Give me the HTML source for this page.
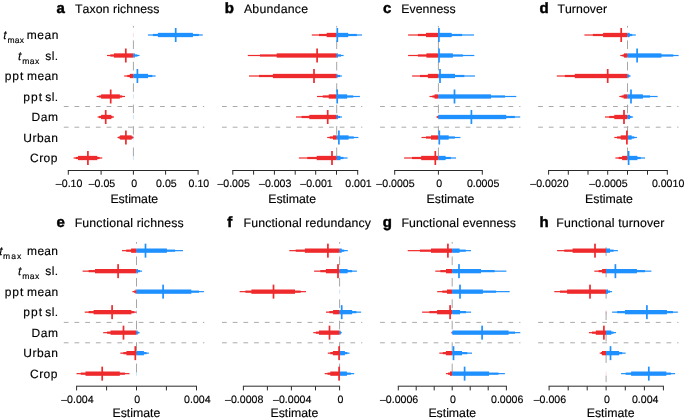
<!DOCTYPE html>
<html><head><meta charset="utf-8"><title>Figure</title>
<style>
html,body{margin:0;padding:0;background:#fff;}
body{width:685px;height:420px;overflow:hidden;}
svg{display:block;will-change:transform;}
text{font-family:"Liberation Sans",sans-serif;fill:#000000;stroke:#000000;stroke-width:0.15px;text-rendering:geometricPrecision;font-kerning:none;}
.tl{font-size:10.6px;}
.xl{font-size:12.3px;}
.tt{font-size:12.3px;}
.pl{font-size:15px;font-weight:bold;fill:#000;stroke-width:0.45px;}
.yl{font-size:12px;}
.sub{font-size:8.5px;}
</style></head>
<body>
<svg width="685" height="420" viewBox="0 0 685 420">
<rect width="685" height="420" fill="#fff"/>
<line x1="63.80" y1="106.50" x2="204.30" y2="106.50" stroke="#aaaaaa" stroke-width="1" stroke-dasharray="4.75 5.95"/>
<line x1="63.80" y1="127.20" x2="204.30" y2="127.20" stroke="#aaaaaa" stroke-width="1" stroke-dasharray="4.75 5.95"/>
<line x1="133.40" y1="25.90" x2="133.40" y2="166.00" stroke="#a6a6a6" stroke-width="1" stroke-dasharray="8.6 12.82" stroke-dashoffset="6.9"/>
<rect x="132.90" y="32.90" width="1" height="4.2" fill="#ee2a2c" opacity="0.15"/>
<rect x="147.90" y="34.40" width="54.90" height="1.20" fill="#1e90ff"/>
<rect x="152.90" y="33.90" width="45.90" height="2.20" fill="#1e90ff"/>
<rect x="157.90" y="32.85" width="35.00" height="4.30" fill="#1e90ff"/>
<rect x="174.85" y="28.00" width="1.70" height="14.00" fill="#1e90ff"/>
<rect x="107.00" y="54.90" width="26.40" height="1.20" fill="#ee2a2c"/>
<rect x="133.40" y="54.90" width="6.10" height="1.20" fill="#1e90ff"/>
<rect x="110.30" y="54.40" width="23.10" height="2.20" fill="#ee2a2c"/>
<rect x="133.40" y="54.40" width="4.10" height="2.20" fill="#1e90ff"/>
<rect x="113.90" y="53.35" width="19.50" height="4.30" fill="#ee2a2c"/>
<rect x="133.40" y="53.35" width="1.50" height="4.30" fill="#1e90ff"/>
<rect x="124.95" y="48.50" width="1.70" height="14.00" fill="#ee2a2c"/>
<rect x="124.20" y="75.40" width="9.20" height="1.20" fill="#ee2a2c"/>
<rect x="133.40" y="75.40" width="22.20" height="1.20" fill="#1e90ff"/>
<rect x="127.30" y="74.90" width="6.10" height="2.20" fill="#ee2a2c"/>
<rect x="133.40" y="74.90" width="18.90" height="2.20" fill="#1e90ff"/>
<rect x="129.80" y="73.85" width="3.60" height="4.30" fill="#ee2a2c"/>
<rect x="133.40" y="73.85" width="14.60" height="4.30" fill="#1e90ff"/>
<rect x="136.55" y="69.00" width="1.70" height="14.00" fill="#1e90ff"/>
<rect x="132.90" y="94.40" width="1" height="4.2" fill="#1e90ff" opacity="0.22"/>
<rect x="96.70" y="95.90" width="28.30" height="1.20" fill="#ee2a2c"/>
<rect x="98.80" y="95.40" width="23.40" height="2.20" fill="#ee2a2c"/>
<rect x="101.10" y="94.35" width="18.70" height="4.30" fill="#ee2a2c"/>
<rect x="109.85" y="89.50" width="1.70" height="14.00" fill="#ee2a2c"/>
<rect x="132.90" y="114.90" width="1" height="4.2" fill="#1e90ff" opacity="0.22"/>
<rect x="97.60" y="116.40" width="16.40" height="1.20" fill="#ee2a2c"/>
<rect x="99.00" y="115.90" width="13.50" height="2.20" fill="#ee2a2c"/>
<rect x="101.10" y="114.85" width="10.20" height="4.30" fill="#ee2a2c"/>
<rect x="104.85" y="110.00" width="1.70" height="14.00" fill="#ee2a2c"/>
<rect x="132.90" y="135.40" width="1" height="4.2" fill="#1e90ff" opacity="0.22"/>
<rect x="117.50" y="136.90" width="15.90" height="1.20" fill="#ee2a2c"/>
<rect x="133.40" y="136.90" width="0.30" height="1.20" fill="#1e90ff"/>
<rect x="118.70" y="136.40" width="14.20" height="2.20" fill="#ee2a2c"/>
<rect x="120.10" y="135.35" width="11.60" height="4.30" fill="#ee2a2c"/>
<rect x="125.05" y="130.50" width="1.70" height="14.00" fill="#ee2a2c"/>
<rect x="132.90" y="155.90" width="1" height="4.2" fill="#1e90ff" opacity="0.22"/>
<rect x="73.60" y="157.40" width="28.70" height="1.20" fill="#ee2a2c"/>
<rect x="75.70" y="156.90" width="23.90" height="2.20" fill="#ee2a2c"/>
<rect x="78.00" y="155.85" width="19.30" height="4.30" fill="#ee2a2c"/>
<rect x="87.05" y="151.00" width="1.70" height="14.00" fill="#ee2a2c"/>
<line x1="67.80" y1="170.50" x2="198.60" y2="170.50" stroke="#2a2a2a" stroke-width="1"/>
<line x1="68.30" y1="170.50" x2="68.30" y2="174.70" stroke="#2a2a2a" stroke-width="1"/>
<text transform="translate(69.10,187.10) scale(1.0,1)" class="tl" text-anchor="middle">–0.10</text>
<line x1="101.10" y1="170.50" x2="101.10" y2="174.70" stroke="#2a2a2a" stroke-width="1"/>
<text transform="translate(101.90,187.10) scale(1.0,1)" class="tl" text-anchor="middle">–0.05</text>
<line x1="133.40" y1="170.50" x2="133.40" y2="174.70" stroke="#2a2a2a" stroke-width="1"/>
<text transform="translate(134.20,187.10) scale(1.0,1)" class="tl" text-anchor="middle">0</text>
<line x1="165.60" y1="170.50" x2="165.60" y2="174.70" stroke="#2a2a2a" stroke-width="1"/>
<text transform="translate(166.40,187.10) scale(1.0,1)" class="tl" text-anchor="middle">0.05</text>
<line x1="198.10" y1="170.50" x2="198.10" y2="174.70" stroke="#2a2a2a" stroke-width="1"/>
<text transform="translate(198.90,187.10) scale(1.0,1)" class="tl" text-anchor="middle">0.10</text>
<text x="134.30" y="203.40" class="xl" text-anchor="middle">Estimate</text>
<text x="56.56" y="12.85" class="pl">a</text>
<text x="74.92" y="12.85" class="tt" style="letter-spacing:0.094px">Taxon richness</text>
<line x1="222.00" y1="106.50" x2="362.30" y2="106.50" stroke="#aaaaaa" stroke-width="1" stroke-dasharray="4.75 5.95"/>
<line x1="222.00" y1="127.20" x2="362.30" y2="127.20" stroke="#aaaaaa" stroke-width="1" stroke-dasharray="4.75 5.95"/>
<line x1="336.70" y1="25.90" x2="336.70" y2="166.00" stroke="#a6a6a6" stroke-width="1" stroke-dasharray="8.6 12.82" stroke-dashoffset="6.9"/>
<rect x="311.80" y="34.40" width="24.90" height="1.20" fill="#ee2a2c"/>
<rect x="336.70" y="34.40" width="25.30" height="1.20" fill="#1e90ff"/>
<rect x="319.00" y="33.90" width="17.70" height="2.20" fill="#ee2a2c"/>
<rect x="336.70" y="33.90" width="20.10" height="2.20" fill="#1e90ff"/>
<rect x="326.70" y="32.85" width="10.00" height="4.30" fill="#ee2a2c"/>
<rect x="336.70" y="32.85" width="11.50" height="4.30" fill="#1e90ff"/>
<rect x="336.45" y="28.00" width="1.70" height="14.00" fill="#1e90ff"/>
<rect x="247.80" y="54.90" width="88.90" height="1.20" fill="#ee2a2c"/>
<rect x="336.70" y="54.90" width="6.90" height="1.20" fill="#1e90ff"/>
<rect x="260.00" y="54.40" width="76.70" height="2.20" fill="#ee2a2c"/>
<rect x="336.70" y="54.40" width="4.30" height="2.20" fill="#1e90ff"/>
<rect x="276.70" y="53.35" width="60.00" height="4.30" fill="#ee2a2c"/>
<rect x="336.70" y="53.35" width="1.30" height="4.30" fill="#1e90ff"/>
<rect x="316.25" y="48.50" width="1.70" height="14.00" fill="#ee2a2c"/>
<rect x="249.00" y="75.40" width="87.70" height="1.20" fill="#ee2a2c"/>
<rect x="336.70" y="75.40" width="5.20" height="1.20" fill="#1e90ff"/>
<rect x="259.00" y="74.90" width="77.70" height="2.20" fill="#ee2a2c"/>
<rect x="336.70" y="74.90" width="3.30" height="2.20" fill="#1e90ff"/>
<rect x="272.90" y="73.85" width="63.80" height="4.30" fill="#ee2a2c"/>
<rect x="336.70" y="73.85" width="0.80" height="4.30" fill="#1e90ff"/>
<rect x="313.15" y="69.00" width="1.70" height="14.00" fill="#ee2a2c"/>
<rect x="317.00" y="95.90" width="19.70" height="1.20" fill="#ee2a2c"/>
<rect x="336.70" y="95.90" width="23.20" height="1.20" fill="#1e90ff"/>
<rect x="322.80" y="95.40" width="13.90" height="2.20" fill="#ee2a2c"/>
<rect x="336.70" y="95.40" width="16.50" height="2.20" fill="#1e90ff"/>
<rect x="328.70" y="94.35" width="8.00" height="4.30" fill="#ee2a2c"/>
<rect x="336.70" y="94.35" width="10.40" height="4.30" fill="#1e90ff"/>
<rect x="336.35" y="89.50" width="1.70" height="14.00" fill="#1e90ff"/>
<rect x="296.00" y="116.40" width="40.70" height="1.20" fill="#ee2a2c"/>
<rect x="336.70" y="116.40" width="5.30" height="1.20" fill="#1e90ff"/>
<rect x="301.60" y="115.90" width="35.10" height="2.20" fill="#ee2a2c"/>
<rect x="336.70" y="115.90" width="3.30" height="2.20" fill="#1e90ff"/>
<rect x="309.30" y="114.85" width="27.40" height="4.30" fill="#ee2a2c"/>
<rect x="336.70" y="114.85" width="1.20" height="4.30" fill="#1e90ff"/>
<rect x="326.85" y="110.00" width="1.70" height="14.00" fill="#ee2a2c"/>
<rect x="327.20" y="136.90" width="9.50" height="1.20" fill="#ee2a2c"/>
<rect x="336.70" y="136.90" width="21.70" height="1.20" fill="#1e90ff"/>
<rect x="329.70" y="136.40" width="7.00" height="2.20" fill="#ee2a2c"/>
<rect x="336.70" y="136.40" width="17.10" height="2.20" fill="#1e90ff"/>
<rect x="333.00" y="135.35" width="3.70" height="4.30" fill="#ee2a2c"/>
<rect x="336.70" y="135.35" width="11.90" height="4.30" fill="#1e90ff"/>
<rect x="338.05" y="130.50" width="1.70" height="14.00" fill="#1e90ff"/>
<rect x="298.90" y="157.40" width="37.80" height="1.20" fill="#ee2a2c"/>
<rect x="336.70" y="157.40" width="10.90" height="1.20" fill="#1e90ff"/>
<rect x="307.30" y="156.90" width="29.40" height="2.20" fill="#ee2a2c"/>
<rect x="336.70" y="156.90" width="6.80" height="2.20" fill="#1e90ff"/>
<rect x="316.70" y="155.85" width="20.00" height="4.30" fill="#ee2a2c"/>
<rect x="336.70" y="155.85" width="3.80" height="4.30" fill="#1e90ff"/>
<rect x="331.15" y="151.00" width="1.70" height="14.00" fill="#ee2a2c"/>
<line x1="232.30" y1="170.50" x2="358.20" y2="170.50" stroke="#2a2a2a" stroke-width="1"/>
<line x1="232.80" y1="170.50" x2="232.80" y2="174.70" stroke="#2a2a2a" stroke-width="1"/>
<text transform="translate(233.60,187.10) scale(1.0,1)" class="tl" text-anchor="middle">–0.005</text>
<line x1="253.60" y1="170.50" x2="253.60" y2="174.70" stroke="#2a2a2a" stroke-width="1"/>
<line x1="274.40" y1="170.50" x2="274.40" y2="174.70" stroke="#2a2a2a" stroke-width="1"/>
<text transform="translate(275.20,187.10) scale(1.0,1)" class="tl" text-anchor="middle">–0.003</text>
<line x1="295.20" y1="170.50" x2="295.20" y2="174.70" stroke="#2a2a2a" stroke-width="1"/>
<line x1="315.70" y1="170.50" x2="315.70" y2="174.70" stroke="#2a2a2a" stroke-width="1"/>
<text transform="translate(316.50,187.10) scale(1.0,1)" class="tl" text-anchor="middle">–0.001</text>
<line x1="336.50" y1="170.50" x2="336.50" y2="174.70" stroke="#2a2a2a" stroke-width="1"/>
<line x1="357.70" y1="170.50" x2="357.70" y2="174.70" stroke="#2a2a2a" stroke-width="1"/>
<text transform="translate(358.50,187.10) scale(1.0,1)" class="tl" text-anchor="middle">0.001</text>
<text x="292.20" y="203.40" class="xl" text-anchor="middle">Estimate</text>
<text x="224.71" y="12.85" class="pl">b</text>
<text x="243.88" y="12.85" class="tt" style="letter-spacing:0.241px">Abundance</text>
<line x1="380.10" y1="106.50" x2="520.40" y2="106.50" stroke="#aaaaaa" stroke-width="1" stroke-dasharray="4.75 5.95"/>
<line x1="380.10" y1="127.20" x2="520.40" y2="127.20" stroke="#aaaaaa" stroke-width="1" stroke-dasharray="4.75 5.95"/>
<line x1="438.40" y1="25.90" x2="438.40" y2="166.00" stroke="#a6a6a6" stroke-width="1" stroke-dasharray="8.6 12.82" stroke-dashoffset="6.9"/>
<rect x="408.10" y="34.40" width="30.30" height="1.20" fill="#ee2a2c"/>
<rect x="438.40" y="34.40" width="35.60" height="1.20" fill="#1e90ff"/>
<rect x="417.90" y="33.90" width="20.50" height="2.20" fill="#ee2a2c"/>
<rect x="438.40" y="33.90" width="23.70" height="2.20" fill="#1e90ff"/>
<rect x="426.00" y="32.85" width="12.40" height="4.30" fill="#ee2a2c"/>
<rect x="438.40" y="32.85" width="13.30" height="4.30" fill="#1e90ff"/>
<rect x="438.05" y="28.00" width="1.70" height="14.00" fill="#1e90ff"/>
<rect x="408.10" y="54.90" width="30.30" height="1.20" fill="#ee2a2c"/>
<rect x="438.40" y="54.90" width="35.90" height="1.20" fill="#1e90ff"/>
<rect x="417.90" y="54.40" width="20.50" height="2.20" fill="#ee2a2c"/>
<rect x="438.40" y="54.40" width="24.50" height="2.20" fill="#1e90ff"/>
<rect x="426.40" y="53.35" width="12.00" height="4.30" fill="#ee2a2c"/>
<rect x="438.40" y="53.35" width="14.50" height="4.30" fill="#1e90ff"/>
<rect x="438.15" y="48.50" width="1.70" height="14.00" fill="#1e90ff"/>
<rect x="412.10" y="75.40" width="26.30" height="1.20" fill="#ee2a2c"/>
<rect x="438.40" y="75.40" width="36.60" height="1.20" fill="#1e90ff"/>
<rect x="420.00" y="74.90" width="18.40" height="2.20" fill="#ee2a2c"/>
<rect x="438.40" y="74.90" width="25.90" height="2.20" fill="#1e90ff"/>
<rect x="427.90" y="73.85" width="10.50" height="4.30" fill="#ee2a2c"/>
<rect x="438.40" y="73.85" width="16.60" height="4.30" fill="#1e90ff"/>
<rect x="439.15" y="69.00" width="1.70" height="14.00" fill="#1e90ff"/>
<rect x="429.50" y="95.90" width="8.90" height="1.20" fill="#ee2a2c"/>
<rect x="438.40" y="95.90" width="77.90" height="1.20" fill="#1e90ff"/>
<rect x="432.40" y="95.40" width="6.00" height="2.20" fill="#ee2a2c"/>
<rect x="438.40" y="95.40" width="66.60" height="2.20" fill="#1e90ff"/>
<rect x="434.50" y="94.35" width="3.90" height="4.30" fill="#ee2a2c"/>
<rect x="438.40" y="94.35" width="52.60" height="4.30" fill="#1e90ff"/>
<rect x="453.65" y="89.50" width="1.70" height="14.00" fill="#1e90ff"/>
<rect x="436.40" y="116.40" width="2.00" height="1.20" fill="#ee2a2c"/>
<rect x="438.40" y="116.40" width="81.80" height="1.20" fill="#1e90ff"/>
<rect x="437.20" y="115.90" width="1.20" height="2.20" fill="#ee2a2c"/>
<rect x="438.40" y="115.90" width="76.40" height="2.20" fill="#1e90ff"/>
<rect x="438.00" y="114.85" width="0.40" height="4.30" fill="#ee2a2c"/>
<rect x="438.40" y="114.85" width="67.80" height="4.30" fill="#1e90ff"/>
<rect x="470.55" y="110.00" width="1.70" height="14.00" fill="#1e90ff"/>
<rect x="421.50" y="136.90" width="16.90" height="1.20" fill="#ee2a2c"/>
<rect x="438.40" y="136.90" width="22.00" height="1.20" fill="#1e90ff"/>
<rect x="426.00" y="136.40" width="12.40" height="2.20" fill="#ee2a2c"/>
<rect x="438.40" y="136.40" width="16.40" height="2.20" fill="#1e90ff"/>
<rect x="431.00" y="135.35" width="7.40" height="4.30" fill="#ee2a2c"/>
<rect x="438.40" y="135.35" width="10.30" height="4.30" fill="#1e90ff"/>
<rect x="438.45" y="130.50" width="1.70" height="14.00" fill="#1e90ff"/>
<rect x="404.10" y="157.40" width="34.30" height="1.20" fill="#ee2a2c"/>
<rect x="438.40" y="157.40" width="17.60" height="1.20" fill="#1e90ff"/>
<rect x="412.00" y="156.90" width="26.40" height="2.20" fill="#ee2a2c"/>
<rect x="438.40" y="156.90" width="12.40" height="2.20" fill="#1e90ff"/>
<rect x="421.20" y="155.85" width="17.20" height="4.30" fill="#ee2a2c"/>
<rect x="438.40" y="155.85" width="7.20" height="4.30" fill="#1e90ff"/>
<rect x="434.45" y="151.00" width="1.70" height="14.00" fill="#ee2a2c"/>
<line x1="394.20" y1="170.50" x2="482.80" y2="170.50" stroke="#2a2a2a" stroke-width="1"/>
<line x1="394.70" y1="170.50" x2="394.70" y2="174.70" stroke="#2a2a2a" stroke-width="1"/>
<text transform="translate(395.50,187.10) scale(1.0,1)" class="tl" text-anchor="middle">–0.0005</text>
<line x1="438.40" y1="170.50" x2="438.40" y2="174.70" stroke="#2a2a2a" stroke-width="1"/>
<text transform="translate(439.20,187.10) scale(1.0,1)" class="tl" text-anchor="middle">0</text>
<line x1="482.30" y1="170.50" x2="482.30" y2="174.70" stroke="#2a2a2a" stroke-width="1"/>
<text transform="translate(483.10,187.10) scale(1.0,1)" class="tl" text-anchor="middle">0.0005</text>
<text x="450.50" y="203.40" class="xl" text-anchor="middle">Estimate</text>
<text x="383.01" y="12.85" class="pl">c</text>
<text x="401.19" y="12.85" class="tt" style="letter-spacing:0.077px">Evenness</text>
<line x1="538.10" y1="106.50" x2="678.50" y2="106.50" stroke="#aaaaaa" stroke-width="1" stroke-dasharray="4.75 5.95"/>
<line x1="538.10" y1="127.20" x2="678.50" y2="127.20" stroke="#aaaaaa" stroke-width="1" stroke-dasharray="4.75 5.95"/>
<line x1="627.50" y1="25.90" x2="627.50" y2="166.00" stroke="#a6a6a6" stroke-width="1" stroke-dasharray="8.6 12.82" stroke-dashoffset="6.9"/>
<rect x="584.40" y="34.40" width="43.10" height="1.20" fill="#ee2a2c"/>
<rect x="627.50" y="34.40" width="8.30" height="1.20" fill="#1e90ff"/>
<rect x="592.90" y="33.90" width="34.60" height="2.20" fill="#ee2a2c"/>
<rect x="627.50" y="33.90" width="4.70" height="2.20" fill="#1e90ff"/>
<rect x="603.10" y="32.85" width="24.40" height="4.30" fill="#ee2a2c"/>
<rect x="627.50" y="32.85" width="2.20" height="4.30" fill="#1e90ff"/>
<rect x="620.35" y="28.00" width="1.70" height="14.00" fill="#ee2a2c"/>
<rect x="620.30" y="54.90" width="7.20" height="1.20" fill="#ee2a2c"/>
<rect x="627.50" y="54.90" width="51.10" height="1.20" fill="#1e90ff"/>
<rect x="622.50" y="54.40" width="5.00" height="2.20" fill="#ee2a2c"/>
<rect x="627.50" y="54.40" width="45.80" height="2.20" fill="#1e90ff"/>
<rect x="624.00" y="53.35" width="3.50" height="4.30" fill="#ee2a2c"/>
<rect x="627.50" y="53.35" width="33.90" height="4.30" fill="#1e90ff"/>
<rect x="636.25" y="48.50" width="1.70" height="14.00" fill="#1e90ff"/>
<rect x="556.80" y="75.40" width="70.70" height="1.20" fill="#ee2a2c"/>
<rect x="627.50" y="75.40" width="3.10" height="1.20" fill="#1e90ff"/>
<rect x="564.90" y="74.90" width="62.60" height="2.20" fill="#ee2a2c"/>
<rect x="627.50" y="74.90" width="2.00" height="2.20" fill="#1e90ff"/>
<rect x="574.80" y="73.85" width="52.70" height="4.30" fill="#ee2a2c"/>
<rect x="627.50" y="73.85" width="1.00" height="4.30" fill="#1e90ff"/>
<rect x="606.85" y="69.00" width="1.70" height="14.00" fill="#ee2a2c"/>
<rect x="619.30" y="95.90" width="8.20" height="1.20" fill="#ee2a2c"/>
<rect x="627.50" y="95.90" width="30.10" height="1.20" fill="#1e90ff"/>
<rect x="621.50" y="95.40" width="6.00" height="2.20" fill="#ee2a2c"/>
<rect x="627.50" y="95.40" width="22.50" height="2.20" fill="#1e90ff"/>
<rect x="623.60" y="94.35" width="3.90" height="4.30" fill="#ee2a2c"/>
<rect x="627.50" y="94.35" width="15.40" height="4.30" fill="#1e90ff"/>
<rect x="630.15" y="89.50" width="1.70" height="14.00" fill="#1e90ff"/>
<rect x="605.00" y="116.40" width="22.50" height="1.20" fill="#ee2a2c"/>
<rect x="627.50" y="116.40" width="5.60" height="1.20" fill="#1e90ff"/>
<rect x="609.30" y="115.90" width="18.20" height="2.20" fill="#ee2a2c"/>
<rect x="627.50" y="115.90" width="4.00" height="2.20" fill="#1e90ff"/>
<rect x="614.30" y="114.85" width="13.20" height="4.30" fill="#ee2a2c"/>
<rect x="627.50" y="114.85" width="2.50" height="4.30" fill="#1e90ff"/>
<rect x="623.15" y="110.00" width="1.70" height="14.00" fill="#ee2a2c"/>
<rect x="614.30" y="136.90" width="13.20" height="1.20" fill="#ee2a2c"/>
<rect x="627.50" y="136.90" width="9.40" height="1.20" fill="#1e90ff"/>
<rect x="617.10" y="136.40" width="10.40" height="2.20" fill="#ee2a2c"/>
<rect x="627.50" y="136.40" width="6.80" height="2.20" fill="#1e90ff"/>
<rect x="620.70" y="135.35" width="6.80" height="4.30" fill="#ee2a2c"/>
<rect x="627.50" y="135.35" width="4.20" height="4.30" fill="#1e90ff"/>
<rect x="626.05" y="130.50" width="1.70" height="14.00" fill="#ee2a2c"/>
<rect x="615.40" y="157.40" width="12.10" height="1.20" fill="#ee2a2c"/>
<rect x="627.50" y="157.40" width="17.50" height="1.20" fill="#1e90ff"/>
<rect x="618.60" y="156.90" width="8.90" height="2.20" fill="#ee2a2c"/>
<rect x="627.50" y="156.90" width="13.20" height="2.20" fill="#1e90ff"/>
<rect x="622.10" y="155.85" width="5.40" height="4.30" fill="#ee2a2c"/>
<rect x="627.50" y="155.85" width="9.90" height="4.30" fill="#1e90ff"/>
<rect x="627.75" y="151.00" width="1.70" height="14.00" fill="#1e90ff"/>
<line x1="548.10" y1="170.50" x2="667.80" y2="170.50" stroke="#2a2a2a" stroke-width="1"/>
<line x1="548.60" y1="170.50" x2="548.60" y2="174.70" stroke="#2a2a2a" stroke-width="1"/>
<text transform="translate(549.40,187.10) scale(1.0,1)" class="tl" text-anchor="middle">–0.0020</text>
<line x1="568.30" y1="170.50" x2="568.30" y2="174.70" stroke="#2a2a2a" stroke-width="1"/>
<line x1="588.00" y1="170.50" x2="588.00" y2="174.70" stroke="#2a2a2a" stroke-width="1"/>
<line x1="607.70" y1="170.50" x2="607.70" y2="174.70" stroke="#2a2a2a" stroke-width="1"/>
<text transform="translate(608.50,187.10) scale(1.0,1)" class="tl" text-anchor="middle">–0.0005</text>
<line x1="627.50" y1="170.50" x2="627.50" y2="174.70" stroke="#2a2a2a" stroke-width="1"/>
<line x1="647.50" y1="170.50" x2="647.50" y2="174.70" stroke="#2a2a2a" stroke-width="1"/>
<line x1="667.30" y1="170.50" x2="667.30" y2="174.70" stroke="#2a2a2a" stroke-width="1"/>
<text transform="translate(668.10,187.10) scale(1.0,1)" class="tl" text-anchor="middle">0.0010</text>
<text x="609.00" y="203.40" class="xl" text-anchor="middle">Estimate</text>
<text x="539.58" y="12.85" class="pl">d</text>
<text x="557.42" y="12.85" class="tt" style="letter-spacing:0.052px">Turnover</text>
<line x1="63.80" y1="322.40" x2="204.30" y2="322.40" stroke="#aaaaaa" stroke-width="1" stroke-dasharray="4.75 5.95"/>
<line x1="63.80" y1="342.80" x2="204.30" y2="342.80" stroke="#aaaaaa" stroke-width="1" stroke-dasharray="4.75 5.95"/>
<line x1="136.50" y1="242.00" x2="136.50" y2="382.10" stroke="#a6a6a6" stroke-width="1" stroke-dasharray="8.6 12.82" stroke-dashoffset="6.9"/>
<rect x="122.00" y="250.05" width="14.50" height="1.20" fill="#ee2a2c"/>
<rect x="136.50" y="250.05" width="46.50" height="1.20" fill="#1e90ff"/>
<rect x="126.20" y="249.55" width="10.30" height="2.20" fill="#ee2a2c"/>
<rect x="136.50" y="249.55" width="38.60" height="2.20" fill="#1e90ff"/>
<rect x="131.10" y="248.50" width="5.40" height="4.30" fill="#ee2a2c"/>
<rect x="136.50" y="248.50" width="30.40" height="4.30" fill="#1e90ff"/>
<rect x="144.65" y="243.65" width="1.70" height="14.00" fill="#1e90ff"/>
<rect x="82.60" y="270.55" width="53.90" height="1.20" fill="#ee2a2c"/>
<rect x="136.50" y="270.55" width="5.60" height="1.20" fill="#1e90ff"/>
<rect x="88.60" y="270.05" width="47.90" height="2.20" fill="#ee2a2c"/>
<rect x="136.50" y="270.05" width="3.50" height="2.20" fill="#1e90ff"/>
<rect x="95.00" y="269.00" width="41.50" height="4.30" fill="#ee2a2c"/>
<rect x="136.50" y="269.00" width="1.50" height="4.30" fill="#1e90ff"/>
<rect x="117.25" y="264.15" width="1.70" height="14.00" fill="#ee2a2c"/>
<rect x="132.40" y="291.05" width="4.10" height="1.20" fill="#ee2a2c"/>
<rect x="136.50" y="291.05" width="67.40" height="1.20" fill="#1e90ff"/>
<rect x="134.00" y="290.55" width="2.50" height="2.20" fill="#ee2a2c"/>
<rect x="136.50" y="290.55" width="62.50" height="2.20" fill="#1e90ff"/>
<rect x="135.50" y="289.50" width="1.00" height="4.30" fill="#ee2a2c"/>
<rect x="136.50" y="289.50" width="54.80" height="4.30" fill="#1e90ff"/>
<rect x="162.25" y="284.65" width="1.70" height="14.00" fill="#1e90ff"/>
<rect x="136.00" y="310.05" width="1" height="4.2" fill="#1e90ff" opacity="0.22"/>
<rect x="84.70" y="311.55" width="51.80" height="1.20" fill="#ee2a2c"/>
<rect x="136.50" y="311.55" width="0.30" height="1.20" fill="#1e90ff"/>
<rect x="88.60" y="311.05" width="45.70" height="2.20" fill="#ee2a2c"/>
<rect x="93.60" y="310.00" width="37.80" height="4.30" fill="#ee2a2c"/>
<rect x="111.25" y="305.15" width="1.70" height="14.00" fill="#ee2a2c"/>
<rect x="103.20" y="332.05" width="33.30" height="1.20" fill="#ee2a2c"/>
<rect x="136.50" y="332.05" width="3.10" height="1.20" fill="#1e90ff"/>
<rect x="107.10" y="331.55" width="29.40" height="2.20" fill="#ee2a2c"/>
<rect x="136.50" y="331.55" width="2.00" height="2.20" fill="#1e90ff"/>
<rect x="110.50" y="330.50" width="26.00" height="4.30" fill="#ee2a2c"/>
<rect x="136.50" y="330.50" width="1.00" height="4.30" fill="#1e90ff"/>
<rect x="122.65" y="325.65" width="1.70" height="14.00" fill="#ee2a2c"/>
<rect x="120.30" y="352.55" width="16.20" height="1.20" fill="#ee2a2c"/>
<rect x="136.50" y="352.55" width="12.40" height="1.20" fill="#1e90ff"/>
<rect x="123.30" y="352.05" width="13.20" height="2.20" fill="#ee2a2c"/>
<rect x="136.50" y="352.05" width="10.00" height="2.20" fill="#1e90ff"/>
<rect x="126.40" y="351.00" width="10.10" height="4.30" fill="#ee2a2c"/>
<rect x="136.50" y="351.00" width="7.40" height="4.30" fill="#1e90ff"/>
<rect x="134.45" y="346.15" width="1.70" height="14.00" fill="#ee2a2c"/>
<rect x="136.00" y="371.55" width="1" height="4.2" fill="#1e90ff" opacity="0.22"/>
<rect x="76.50" y="373.05" width="53.00" height="1.20" fill="#ee2a2c"/>
<rect x="80.80" y="372.55" width="44.10" height="2.20" fill="#ee2a2c"/>
<rect x="85.50" y="371.50" width="34.30" height="4.30" fill="#ee2a2c"/>
<rect x="101.35" y="366.65" width="1.70" height="14.00" fill="#ee2a2c"/>
<line x1="76.10" y1="386.20" x2="197.00" y2="386.20" stroke="#2a2a2a" stroke-width="1"/>
<line x1="76.60" y1="386.20" x2="76.60" y2="390.40" stroke="#2a2a2a" stroke-width="1"/>
<text transform="translate(77.40,402.80) scale(1.0,1)" class="tl" text-anchor="middle">–0.004</text>
<line x1="106.60" y1="386.20" x2="106.60" y2="390.40" stroke="#2a2a2a" stroke-width="1"/>
<line x1="136.50" y1="386.20" x2="136.50" y2="390.40" stroke="#2a2a2a" stroke-width="1"/>
<text transform="translate(137.30,402.80) scale(1.0,1)" class="tl" text-anchor="middle">0</text>
<line x1="166.40" y1="386.20" x2="166.40" y2="390.40" stroke="#2a2a2a" stroke-width="1"/>
<line x1="196.50" y1="386.20" x2="196.50" y2="390.40" stroke="#2a2a2a" stroke-width="1"/>
<text transform="translate(197.30,402.80) scale(1.0,1)" class="tl" text-anchor="middle">0.004</text>
<text x="136.40" y="417.20" class="xl" text-anchor="middle">Estimate</text>
<text x="56.41" y="226.85" class="pl">e</text>
<text x="74.69" y="226.85" class="tt" style="letter-spacing:0.166px">Functional richness</text>
<line x1="222.00" y1="322.40" x2="362.30" y2="322.40" stroke="#aaaaaa" stroke-width="1" stroke-dasharray="4.75 5.95"/>
<line x1="222.00" y1="342.80" x2="362.30" y2="342.80" stroke="#aaaaaa" stroke-width="1" stroke-dasharray="4.75 5.95"/>
<line x1="339.60" y1="242.00" x2="339.60" y2="382.10" stroke="#a6a6a6" stroke-width="1" stroke-dasharray="8.6 12.82" stroke-dashoffset="6.9"/>
<rect x="289.30" y="250.05" width="50.30" height="1.20" fill="#ee2a2c"/>
<rect x="339.60" y="250.05" width="8.20" height="1.20" fill="#1e90ff"/>
<rect x="295.70" y="249.55" width="43.90" height="2.20" fill="#ee2a2c"/>
<rect x="339.60" y="249.55" width="4.70" height="2.20" fill="#1e90ff"/>
<rect x="304.90" y="248.50" width="34.70" height="4.30" fill="#ee2a2c"/>
<rect x="339.60" y="248.50" width="2.10" height="4.30" fill="#1e90ff"/>
<rect x="327.05" y="243.65" width="1.70" height="14.00" fill="#ee2a2c"/>
<rect x="314.10" y="270.55" width="25.50" height="1.20" fill="#ee2a2c"/>
<rect x="339.60" y="270.55" width="17.30" height="1.20" fill="#1e90ff"/>
<rect x="320.30" y="270.05" width="19.30" height="2.20" fill="#ee2a2c"/>
<rect x="339.60" y="270.05" width="12.50" height="2.20" fill="#1e90ff"/>
<rect x="325.90" y="269.00" width="13.70" height="4.30" fill="#ee2a2c"/>
<rect x="339.60" y="269.00" width="8.00" height="4.30" fill="#1e90ff"/>
<rect x="337.15" y="264.15" width="1.70" height="14.00" fill="#ee2a2c"/>
<rect x="339.10" y="289.55" width="1" height="4.2" fill="#1e90ff" opacity="0.22"/>
<rect x="239.60" y="291.05" width="66.40" height="1.20" fill="#ee2a2c"/>
<rect x="245.40" y="290.55" width="55.30" height="2.20" fill="#ee2a2c"/>
<rect x="251.40" y="289.50" width="43.60" height="4.30" fill="#ee2a2c"/>
<rect x="272.65" y="284.65" width="1.70" height="14.00" fill="#ee2a2c"/>
<rect x="326.00" y="311.55" width="13.60" height="1.20" fill="#ee2a2c"/>
<rect x="339.60" y="311.55" width="21.50" height="1.20" fill="#1e90ff"/>
<rect x="329.30" y="311.05" width="10.30" height="2.20" fill="#ee2a2c"/>
<rect x="339.60" y="311.05" width="16.80" height="2.20" fill="#1e90ff"/>
<rect x="333.10" y="310.00" width="6.50" height="4.30" fill="#ee2a2c"/>
<rect x="339.60" y="310.00" width="12.50" height="4.30" fill="#1e90ff"/>
<rect x="340.85" y="305.15" width="1.70" height="14.00" fill="#1e90ff"/>
<rect x="313.30" y="332.05" width="26.30" height="1.20" fill="#ee2a2c"/>
<rect x="339.60" y="332.05" width="2.20" height="1.20" fill="#1e90ff"/>
<rect x="315.90" y="331.55" width="23.70" height="2.20" fill="#ee2a2c"/>
<rect x="339.60" y="331.55" width="1.40" height="2.20" fill="#1e90ff"/>
<rect x="319.00" y="330.50" width="20.60" height="4.30" fill="#ee2a2c"/>
<rect x="339.60" y="330.50" width="0.90" height="4.30" fill="#1e90ff"/>
<rect x="328.65" y="325.65" width="1.70" height="14.00" fill="#ee2a2c"/>
<rect x="327.80" y="352.55" width="11.80" height="1.20" fill="#ee2a2c"/>
<rect x="339.60" y="352.55" width="9.90" height="1.20" fill="#1e90ff"/>
<rect x="330.30" y="352.05" width="9.30" height="2.20" fill="#ee2a2c"/>
<rect x="339.60" y="352.05" width="7.70" height="2.20" fill="#1e90ff"/>
<rect x="332.90" y="351.00" width="6.70" height="4.30" fill="#ee2a2c"/>
<rect x="339.60" y="351.00" width="5.30" height="4.30" fill="#1e90ff"/>
<rect x="338.25" y="346.15" width="1.70" height="14.00" fill="#ee2a2c"/>
<rect x="324.70" y="373.05" width="14.90" height="1.20" fill="#ee2a2c"/>
<rect x="339.60" y="373.05" width="14.60" height="1.20" fill="#1e90ff"/>
<rect x="327.50" y="372.55" width="12.10" height="2.20" fill="#ee2a2c"/>
<rect x="339.60" y="372.55" width="11.20" height="2.20" fill="#1e90ff"/>
<rect x="330.30" y="371.50" width="9.30" height="4.30" fill="#ee2a2c"/>
<rect x="339.60" y="371.50" width="7.30" height="4.30" fill="#1e90ff"/>
<rect x="338.25" y="366.65" width="1.70" height="14.00" fill="#ee2a2c"/>
<line x1="242.90" y1="386.20" x2="340.10" y2="386.20" stroke="#2a2a2a" stroke-width="1"/>
<line x1="243.40" y1="386.20" x2="243.40" y2="390.40" stroke="#2a2a2a" stroke-width="1"/>
<text transform="translate(244.20,402.80) scale(1.0,1)" class="tl" text-anchor="middle">–0.0008</text>
<line x1="267.40" y1="386.20" x2="267.40" y2="390.40" stroke="#2a2a2a" stroke-width="1"/>
<line x1="291.40" y1="386.20" x2="291.40" y2="390.40" stroke="#2a2a2a" stroke-width="1"/>
<text transform="translate(292.20,402.80) scale(1.0,1)" class="tl" text-anchor="middle">–0.0004</text>
<line x1="315.50" y1="386.20" x2="315.50" y2="390.40" stroke="#2a2a2a" stroke-width="1"/>
<line x1="339.60" y1="386.20" x2="339.60" y2="390.40" stroke="#2a2a2a" stroke-width="1"/>
<text transform="translate(340.40,402.80) scale(1.0,1)" class="tl" text-anchor="middle">0</text>
<text x="294.40" y="417.20" class="xl" text-anchor="middle">Estimate</text>
<text x="227.24" y="226.85" class="pl">f</text>
<text x="243.59" y="226.85" class="tt" style="letter-spacing:0.144px">Functional redundancy</text>
<line x1="380.10" y1="322.40" x2="520.40" y2="322.40" stroke="#aaaaaa" stroke-width="1" stroke-dasharray="4.75 5.95"/>
<line x1="380.10" y1="342.80" x2="520.40" y2="342.80" stroke="#aaaaaa" stroke-width="1" stroke-dasharray="4.75 5.95"/>
<line x1="452.20" y1="242.00" x2="452.20" y2="382.10" stroke="#a6a6a6" stroke-width="1" stroke-dasharray="8.6 12.82" stroke-dashoffset="6.9"/>
<rect x="407.70" y="250.05" width="44.50" height="1.20" fill="#ee2a2c"/>
<rect x="452.20" y="250.05" width="18.80" height="1.20" fill="#1e90ff"/>
<rect x="419.90" y="249.55" width="32.30" height="2.20" fill="#ee2a2c"/>
<rect x="452.20" y="249.55" width="13.50" height="2.20" fill="#1e90ff"/>
<rect x="431.00" y="248.50" width="21.20" height="4.30" fill="#ee2a2c"/>
<rect x="452.20" y="248.50" width="7.40" height="4.30" fill="#1e90ff"/>
<rect x="447.05" y="243.65" width="1.70" height="14.00" fill="#ee2a2c"/>
<rect x="435.30" y="270.55" width="16.90" height="1.20" fill="#ee2a2c"/>
<rect x="452.20" y="270.55" width="54.20" height="1.20" fill="#1e90ff"/>
<rect x="440.40" y="270.05" width="11.80" height="2.20" fill="#ee2a2c"/>
<rect x="452.20" y="270.05" width="42.50" height="2.20" fill="#1e90ff"/>
<rect x="446.00" y="269.00" width="6.20" height="4.30" fill="#ee2a2c"/>
<rect x="452.20" y="269.00" width="28.80" height="4.30" fill="#1e90ff"/>
<rect x="458.15" y="264.15" width="1.70" height="14.00" fill="#1e90ff"/>
<rect x="437.20" y="291.05" width="15.00" height="1.20" fill="#ee2a2c"/>
<rect x="452.20" y="291.05" width="57.50" height="1.20" fill="#1e90ff"/>
<rect x="442.30" y="290.55" width="9.90" height="2.20" fill="#ee2a2c"/>
<rect x="452.20" y="290.55" width="43.90" height="2.20" fill="#1e90ff"/>
<rect x="447.00" y="289.50" width="5.20" height="4.30" fill="#ee2a2c"/>
<rect x="452.20" y="289.50" width="30.70" height="4.30" fill="#1e90ff"/>
<rect x="459.15" y="284.65" width="1.70" height="14.00" fill="#1e90ff"/>
<rect x="422.10" y="311.55" width="30.10" height="1.20" fill="#ee2a2c"/>
<rect x="452.20" y="311.55" width="18.90" height="1.20" fill="#1e90ff"/>
<rect x="429.40" y="311.05" width="22.80" height="2.20" fill="#ee2a2c"/>
<rect x="452.20" y="311.05" width="13.80" height="2.20" fill="#1e90ff"/>
<rect x="437.10" y="310.00" width="15.10" height="4.30" fill="#ee2a2c"/>
<rect x="452.20" y="310.00" width="7.90" height="4.30" fill="#1e90ff"/>
<rect x="449.25" y="305.15" width="1.70" height="14.00" fill="#ee2a2c"/>
<rect x="451.40" y="332.05" width="0.80" height="1.20" fill="#ee2a2c"/>
<rect x="452.20" y="332.05" width="68.10" height="1.20" fill="#1e90ff"/>
<rect x="451.80" y="331.55" width="0.40" height="2.20" fill="#ee2a2c"/>
<rect x="452.20" y="331.55" width="62.80" height="2.20" fill="#1e90ff"/>
<rect x="452.40" y="330.50" width="56.20" height="4.30" fill="#1e90ff"/>
<rect x="481.25" y="325.65" width="1.70" height="14.00" fill="#1e90ff"/>
<rect x="439.30" y="352.55" width="12.90" height="1.20" fill="#ee2a2c"/>
<rect x="452.20" y="352.55" width="19.80" height="1.20" fill="#1e90ff"/>
<rect x="442.80" y="352.05" width="9.40" height="2.20" fill="#ee2a2c"/>
<rect x="452.20" y="352.05" width="15.10" height="2.20" fill="#1e90ff"/>
<rect x="445.90" y="351.00" width="6.30" height="4.30" fill="#ee2a2c"/>
<rect x="452.20" y="351.00" width="9.80" height="4.30" fill="#1e90ff"/>
<rect x="452.65" y="346.15" width="1.70" height="14.00" fill="#1e90ff"/>
<rect x="445.90" y="373.05" width="6.30" height="1.20" fill="#ee2a2c"/>
<rect x="452.20" y="373.05" width="52.70" height="1.20" fill="#1e90ff"/>
<rect x="448.00" y="372.55" width="4.20" height="2.20" fill="#ee2a2c"/>
<rect x="452.20" y="372.55" width="46.30" height="2.20" fill="#1e90ff"/>
<rect x="450.00" y="371.50" width="2.20" height="4.30" fill="#ee2a2c"/>
<rect x="452.20" y="371.50" width="36.80" height="4.30" fill="#1e90ff"/>
<rect x="463.75" y="366.65" width="1.70" height="14.00" fill="#1e90ff"/>
<line x1="397.80" y1="386.20" x2="506.90" y2="386.20" stroke="#2a2a2a" stroke-width="1"/>
<line x1="398.30" y1="386.20" x2="398.30" y2="390.40" stroke="#2a2a2a" stroke-width="1"/>
<text transform="translate(399.10,402.80) scale(1.0,1)" class="tl" text-anchor="middle">–0.0006</text>
<line x1="416.20" y1="386.20" x2="416.20" y2="390.40" stroke="#2a2a2a" stroke-width="1"/>
<line x1="434.20" y1="386.20" x2="434.20" y2="390.40" stroke="#2a2a2a" stroke-width="1"/>
<line x1="452.20" y1="386.20" x2="452.20" y2="390.40" stroke="#2a2a2a" stroke-width="1"/>
<text transform="translate(453.00,402.80) scale(1.0,1)" class="tl" text-anchor="middle">0</text>
<line x1="470.20" y1="386.20" x2="470.20" y2="390.40" stroke="#2a2a2a" stroke-width="1"/>
<line x1="488.20" y1="386.20" x2="488.20" y2="390.40" stroke="#2a2a2a" stroke-width="1"/>
<line x1="506.40" y1="386.20" x2="506.40" y2="390.40" stroke="#2a2a2a" stroke-width="1"/>
<text transform="translate(507.20,402.80) scale(1.0,1)" class="tl" text-anchor="middle">0.0006</text>
<text x="452.30" y="417.20" class="xl" text-anchor="middle">Estimate</text>
<text x="382.78" y="226.85" class="pl">g</text>
<text x="401.39" y="226.85" class="tt" style="letter-spacing:0.091px">Functional evenness</text>
<line x1="538.10" y1="322.40" x2="678.50" y2="322.40" stroke="#aaaaaa" stroke-width="1" stroke-dasharray="4.75 5.95"/>
<line x1="538.10" y1="342.80" x2="678.50" y2="342.80" stroke="#aaaaaa" stroke-width="1" stroke-dasharray="4.75 5.95"/>
<line x1="606.10" y1="242.00" x2="606.10" y2="382.10" stroke="#a6a6a6" stroke-width="1" stroke-dasharray="8.6 12.82" stroke-dashoffset="16.2"/>
<rect x="557.10" y="250.05" width="49.00" height="1.20" fill="#ee2a2c"/>
<rect x="606.10" y="250.05" width="11.80" height="1.20" fill="#1e90ff"/>
<rect x="564.30" y="249.55" width="41.80" height="2.20" fill="#ee2a2c"/>
<rect x="606.10" y="249.55" width="7.50" height="2.20" fill="#1e90ff"/>
<rect x="572.60" y="248.50" width="33.50" height="4.30" fill="#ee2a2c"/>
<rect x="606.10" y="248.50" width="3.90" height="4.30" fill="#1e90ff"/>
<rect x="594.15" y="243.65" width="1.70" height="14.00" fill="#ee2a2c"/>
<rect x="594.30" y="270.55" width="11.80" height="1.20" fill="#ee2a2c"/>
<rect x="606.10" y="270.55" width="45.30" height="1.20" fill="#1e90ff"/>
<rect x="598.60" y="270.05" width="7.50" height="2.20" fill="#ee2a2c"/>
<rect x="606.10" y="270.05" width="38.90" height="2.20" fill="#1e90ff"/>
<rect x="602.10" y="269.00" width="4.00" height="4.30" fill="#ee2a2c"/>
<rect x="606.10" y="269.00" width="30.80" height="4.30" fill="#1e90ff"/>
<rect x="614.55" y="264.15" width="1.70" height="14.00" fill="#1e90ff"/>
<rect x="554.30" y="291.05" width="51.80" height="1.20" fill="#ee2a2c"/>
<rect x="606.10" y="291.05" width="6.00" height="1.20" fill="#1e90ff"/>
<rect x="560.00" y="290.55" width="46.10" height="2.20" fill="#ee2a2c"/>
<rect x="606.10" y="290.55" width="3.90" height="2.20" fill="#1e90ff"/>
<rect x="567.10" y="289.50" width="39.00" height="4.30" fill="#ee2a2c"/>
<rect x="606.10" y="289.50" width="1.90" height="4.30" fill="#1e90ff"/>
<rect x="589.15" y="284.65" width="1.70" height="14.00" fill="#ee2a2c"/>
<rect x="605.60" y="310.05" width="1" height="4.2" fill="#ee2a2c" opacity="0.15"/>
<rect x="612.10" y="311.55" width="65.80" height="1.20" fill="#1e90ff"/>
<rect x="617.10" y="311.05" width="55.80" height="2.20" fill="#1e90ff"/>
<rect x="625.00" y="310.00" width="41.90" height="4.30" fill="#1e90ff"/>
<rect x="646.05" y="305.15" width="1.70" height="14.00" fill="#1e90ff"/>
<rect x="588.90" y="332.05" width="17.20" height="1.20" fill="#ee2a2c"/>
<rect x="606.10" y="332.05" width="9.90" height="1.20" fill="#1e90ff"/>
<rect x="592.00" y="331.55" width="14.10" height="2.20" fill="#ee2a2c"/>
<rect x="606.10" y="331.55" width="7.50" height="2.20" fill="#1e90ff"/>
<rect x="595.80" y="330.50" width="10.30" height="4.30" fill="#ee2a2c"/>
<rect x="606.10" y="330.50" width="5.20" height="4.30" fill="#1e90ff"/>
<rect x="603.05" y="325.65" width="1.70" height="14.00" fill="#ee2a2c"/>
<rect x="599.70" y="352.55" width="6.40" height="1.20" fill="#ee2a2c"/>
<rect x="606.10" y="352.55" width="19.50" height="1.20" fill="#1e90ff"/>
<rect x="601.00" y="352.05" width="5.10" height="2.20" fill="#ee2a2c"/>
<rect x="606.10" y="352.05" width="16.10" height="2.20" fill="#1e90ff"/>
<rect x="602.00" y="351.00" width="4.10" height="4.30" fill="#ee2a2c"/>
<rect x="606.10" y="351.00" width="13.00" height="4.30" fill="#1e90ff"/>
<rect x="609.65" y="346.15" width="1.70" height="14.00" fill="#1e90ff"/>
<rect x="605.60" y="371.55" width="1" height="4.2" fill="#ee2a2c" opacity="0.15"/>
<rect x="621.10" y="373.05" width="54.00" height="1.20" fill="#1e90ff"/>
<rect x="625.60" y="372.55" width="45.30" height="2.20" fill="#1e90ff"/>
<rect x="631.10" y="371.50" width="35.20" height="4.30" fill="#1e90ff"/>
<rect x="647.95" y="366.65" width="1.70" height="14.00" fill="#1e90ff"/>
<line x1="548.60" y1="386.20" x2="663.90" y2="386.20" stroke="#2a2a2a" stroke-width="1"/>
<line x1="549.10" y1="386.20" x2="549.10" y2="390.40" stroke="#2a2a2a" stroke-width="1"/>
<text transform="translate(549.90,402.80) scale(1.0,1)" class="tl" text-anchor="middle">–0.006</text>
<line x1="568.20" y1="386.20" x2="568.20" y2="390.40" stroke="#2a2a2a" stroke-width="1"/>
<line x1="587.20" y1="386.20" x2="587.20" y2="390.40" stroke="#2a2a2a" stroke-width="1"/>
<line x1="606.10" y1="386.20" x2="606.10" y2="390.40" stroke="#2a2a2a" stroke-width="1"/>
<text transform="translate(606.90,402.80) scale(1.0,1)" class="tl" text-anchor="middle">0</text>
<line x1="625.30" y1="386.20" x2="625.30" y2="390.40" stroke="#2a2a2a" stroke-width="1"/>
<line x1="644.40" y1="386.20" x2="644.40" y2="390.40" stroke="#2a2a2a" stroke-width="1"/>
<text transform="translate(645.20,402.80) scale(1.0,1)" class="tl" text-anchor="middle">0.004</text>
<line x1="663.40" y1="386.20" x2="663.40" y2="390.40" stroke="#2a2a2a" stroke-width="1"/>
<text x="610.70" y="417.20" class="xl" text-anchor="middle">Estimate</text>
<text x="539.45" y="226.85" class="pl">h</text>
<text x="556.29" y="226.85" class="tt" style="letter-spacing:0.162px">Functional turnover</text>
<text x="3.26" y="39.20" class="yl" font-style="italic">t</text>
<text x="7.54" y="43.00" class="sub" style="letter-spacing:0.149px">max</text>
<text x="26.80" y="39.20" class="yl" style="letter-spacing:0.520px">mean</text>
<text x="18.06" y="59.70" class="yl" font-style="italic">t</text>
<text x="22.34" y="63.50" class="sub" style="letter-spacing:0.399px">max</text>
<text x="45.37" y="59.70" class="yl" style="letter-spacing:0.415px">sl.</text>
<text x="4.63" y="80.20" class="yl" style="letter-spacing:0.990px">ppt</text>
<text x="27.00" y="80.20" class="yl" style="letter-spacing:0.386px">mean</text>
<text x="23.23" y="100.70" class="yl" style="letter-spacing:1.040px">ppt</text>
<text x="45.37" y="100.70" class="yl" style="letter-spacing:0.415px">sl.</text>
<text x="31.62" y="121.20" class="yl" style="letter-spacing:0.470px">Dam</text>
<text x="23.37" y="141.70" class="yl" style="letter-spacing:0.455px">Urban</text>
<text x="30.09" y="162.20" class="yl" style="letter-spacing:0.435px">Crop</text>
<text x="-0.84" y="254.85" class="yl" font-style="italic">t</text>
<text x="3.04" y="258.65" class="sub" style="letter-spacing:1.049px">max</text>
<text x="27.10" y="254.85" class="yl" style="letter-spacing:0.286px">mean</text>
<text x="18.06" y="275.35" class="yl" font-style="italic">t</text>
<text x="22.34" y="279.15" class="sub" style="letter-spacing:0.399px">max</text>
<text x="45.37" y="275.35" class="yl" style="letter-spacing:0.415px">sl.</text>
<text x="4.63" y="295.85" class="yl" style="letter-spacing:0.990px">ppt</text>
<text x="27.00" y="295.85" class="yl" style="letter-spacing:0.386px">mean</text>
<text x="23.23" y="316.35" class="yl" style="letter-spacing:1.040px">ppt</text>
<text x="45.37" y="316.35" class="yl" style="letter-spacing:0.415px">sl.</text>
<text x="31.62" y="336.85" class="yl" style="letter-spacing:0.470px">Dam</text>
<text x="23.37" y="357.35" class="yl" style="letter-spacing:0.455px">Urban</text>
<text x="30.09" y="377.85" class="yl" style="letter-spacing:0.435px">Crop</text>
</svg>
</body></html>
